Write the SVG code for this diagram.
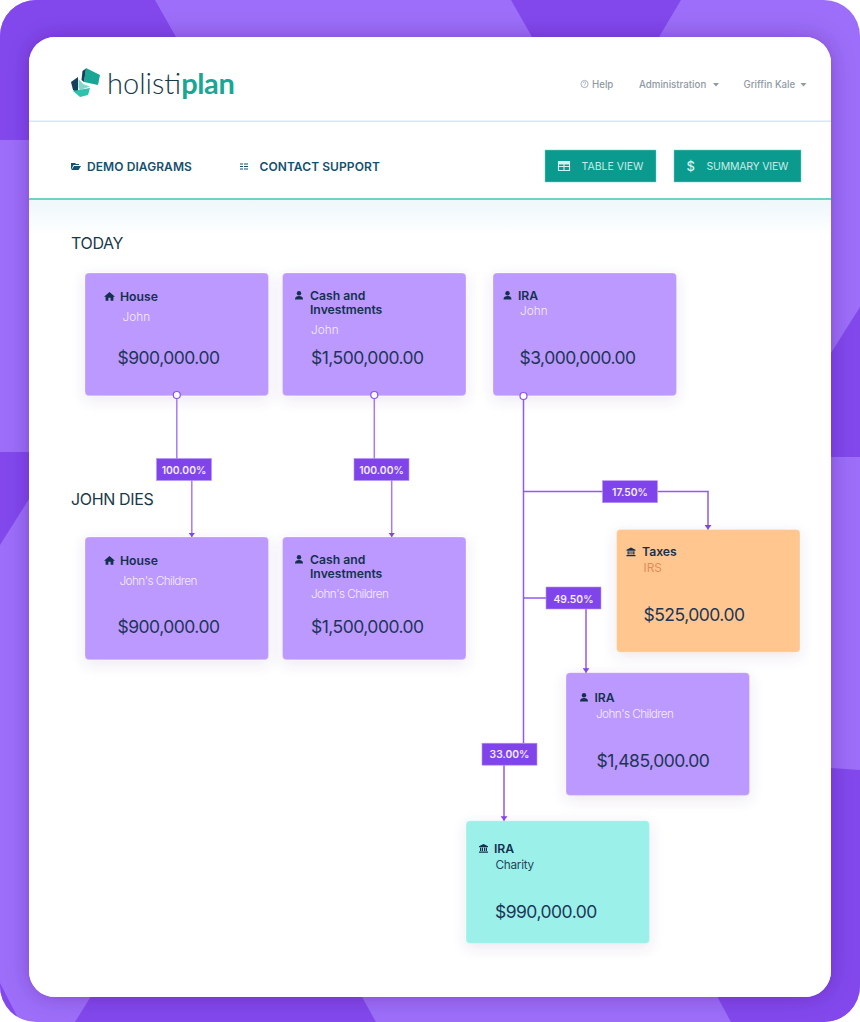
<svg xmlns="http://www.w3.org/2000/svg" width="860" height="1022" viewBox="0 0 860 1022">
<style>
text{font-family:Inter,"Noto Sans","Liberation Sans",sans-serif}
.card{stroke:#fff;stroke-opacity:.25;stroke-width:1}
.t{font-size:12.200px;font-weight:600;fill:#14304f}
.s{font-size:11.800px;font-weight:300;fill:#f4ebff}
.ch{letter-spacing:-.6px}
.a{font-size:17.500px;letter-spacing:-.52px;fill:#1d3557}
.h{font-size:16px;letter-spacing:-.35px;fill:#17394a}
.nav{font-size:12px;font-weight:600;fill:#15506f;letter-spacing:.08px}
.top{font-size:9.700px;font-weight:500;fill:#8f9aa5}
.btn{font-size:10.500px;fill:#c9ece6}
.pct{font-size:10.300px;font-weight:600;fill:#f3ecff;text-anchor:middle}
.lbl{fill:#8045ea;stroke:#b794f6;stroke-width:.6}
.ln{fill:none;stroke:#8f5af0;stroke-width:1.500}
.lt{stroke:#a57bf5}
.dot{fill:#fff;stroke:#8a52ee;stroke-width:1.200}
.ic{fill:#14304f}
</style>
<defs>
<linearGradient id="fade" x1="0" y1="0" x2="0" y2="1"><stop offset="0" stop-color="#eef7fb"/><stop offset="1" stop-color="#ffffff"/></linearGradient>
<filter id="sh" x="-20%" y="-20%" width="140%" height="140%"><feDropShadow dx="0" dy="4" stdDeviation="7" flood-color="#5a4a8a" flood-opacity=".12"/></filter>
<filter id="psh" x="-10%" y="-10%" width="120%" height="120%"><feDropShadow dx="0" dy="0" stdDeviation="11" flood-color="#33206a" flood-opacity=".32"/></filter>
<marker id="arr" markerWidth="5" markerHeight="7" refX="4.500" refY="3.500" orient="auto" markerUnits="userSpaceOnUse" viewBox="0 0 5 7"><path d="M0 0L4.500 3.500L0 7Z" fill="#8045ea"/></marker>
<clipPath id="outer"><rect width="860" height="1022" rx="36"/></clipPath>
<g id="person"><circle cx="4" cy="2.200" r="2.200"/><path d="M0 8.500C0 5.800 1.800 5 4 5S8 5.800 8 8.500Z"/></g>
<g id="home"><path d="M5.500 0L11 4.700H9.400V8.800H6.600V5.800H4.400V8.800H1.600V4.700H0Z"/></g>
<g id="bank"><path d="M4.500 0L9 2.300V3.200H0V2.300ZM1 3.800H2.300V7H1ZM3 3.800H4V7H3ZM5 3.800H6V7H5ZM6.700 3.800H8V7H6.700ZM0 7.500H9V8.800H0Z"/></g>
</defs>
<g id="background" clip-path="url(#outer)">
<rect width="860" height="1022" fill="#9d6ef9"/>
<path d="M0 0H155L176 37V70H70V100H29V140H0Z" fill="#8348ec"/>
<path d="M511 0H681L659 37H532Z" fill="#8348ec"/>
<path d="M0 452H29V499L0 545Z" fill="#8348ec"/>
<path d="M831 353L860 307V457H831Z" fill="#8348ec"/>
<path d="M790 768H831L860 770V1022H731L717.500 997V960H790Z" fill="#8348ec"/>
<path d="M90.500 997H362L376 1022H75Z" fill="#8348ec"/>
<path d="M0 983L20 1022H0Z" fill="#8348ec"/>
<rect x="29" y="37" width="802" height="960" rx="26" fill="#fff" filter="url(#psh)"/>
</g>
<g id="panel">
<rect x="29" y="37" width="802" height="960" rx="26" fill="#fff"/>
<rect x="29" y="200" width="802" height="36" fill="url(#fade)"/>
<rect x="29" y="120.500" width="802" height="1.500" fill="#d5e8f2"/>
<rect x="29" y="198" width="802" height="2" fill="#6dd3c4"/>
</g>
<g id="logo">
<path d="M86 68L100 75L98 85L84 82Z" fill="#17a794"/>
<path d="M82.500 71L86 68.500L84 82L81.500 80Z" fill="#17405a"/>
<path d="M71 82L78 77L78 93L73 90Z" fill="#17405a"/>
<path d="M78.500 79L83 84L90 86.500L80 90L78.500 88Z" fill="#7fd8c8"/>
<path d="M73 91L90 88L88 95L80 97Z" fill="#2bc3ab"/>
<text x="107" y="93.500" style="font-family:Lato,Inter,sans-serif;font-size:29px;font-weight:300" fill="#17394a">holisti<tspan fill="#17a794" font-weight="700" letter-spacing="-.4">plan</tspan></text>
</g>
<g id="topnav">
<circle cx="584.500" cy="84" r="3.600" fill="none" stroke="#8f9aa5" stroke-width=".8"/>
<path d="M583.300 83C583.300 81.500 585.800 81.500 585.800 83C585.800 84 584.500 84 584.500 85M584.500 85.600V86.200" fill="none" stroke="#8f9aa5" stroke-width=".6"/>
<text x="592" y="88" class="top">Help</text>
<text x="639" y="88" class="top">Administration</text>
<path d="M713 83H719L716 86.500Z" fill="#8f9aa5"/>
<text x="743.500" y="88" class="top">Griffin Kale</text>
<path d="M800.500 83H806.500L803.500 86.500Z" fill="#8f9aa5"/>
</g>
<g id="demo-diagrams">
<path d="M71 163H75L76 164H79V165H73.500L71 170ZM71.500 170L74 166H81L78.500 170Z" fill="#15506f"/>
<text x="87" y="170.500" class="nav">DEMO DIAGRAMS</text>
</g>
<g id="contact-support">
<path d="M240 163.500H243V164.500H240ZM244 163.500H248V164.500H244ZM240 166H243V167H240ZM244 166H248V167H244ZM240 168.500H243V169.500H240ZM244 168.500H248V169.500H244Z" fill="#15506f"/>
<text x="259.500" y="170.500" class="nav">CONTACT SUPPORT</text>
</g>
<g id="table-view">
<rect x="545" y="150" width="111" height="32" fill="#0a9b8e" stroke="#6dd3c4" stroke-width=".5"/>
<path d="M558.500 161.500H569.500V164.500H558.500Z" fill="#d6f2ee"/>
<path d="M558.500 161.500H569.500V170.500H558.500ZM558.500 166.500H569.500M564 161.500V170.500" fill="none" stroke="#d6f2ee" stroke-width="1.100"/>
<text x="581.500" y="170" class="btn">TABLE VIEW</text>
</g>
<g id="summary-view">
<rect x="674" y="150" width="127" height="32" fill="#0a9b8e" stroke="#6dd3c4" stroke-width=".5"/>
<text x="686.500" y="171" style="font-size:13px;font-weight:500" fill="#d6f2ee">$</text>
<text x="706.500" y="170" class="btn" letter-spacing="-.2">SUMMARY VIEW</text>
</g>
<text id="today" x="71" y="249" class="h">TODAY</text>
<text id="john-dies" x="71" y="505" class="h">JOHN DIES</text>
<g id="node-house-today">
<rect class="card" x="85" y="273" width="183.500" height="122.700" rx="4" fill="#bc99ff" filter="url(#sh)"/>
<use href="#home" x="104" y="292" class="ic"/>
<text class="t" x="120" y="300.500">House</text><text class="s" x="122.500" y="321">John</text><text class="a" x="117.500" y="364">$900,000.00</text>
</g>
<g id="node-cash-today">
<rect class="card" x="282.500" y="273" width="183.500" height="122.700" rx="4" fill="#bc99ff" filter="url(#sh)"/>
<use href="#person" x="295" y="291" class="ic"/>
<text class="t" x="310" y="299.500">Cash and</text><text class="t" x="310" y="314">Investments</text><text class="s" x="311" y="334">John</text><text class="a" x="311" y="364">$1,500,000.00</text>
</g>
<g id="node-ira-today">
<rect class="card" x="493" y="273" width="183.500" height="122.700" rx="4" fill="#bc99ff" filter="url(#sh)"/>
<use href="#person" x="503.500" y="291" class="ic"/>
<text class="t" x="518" y="299.500">IRA</text><text class="s" x="520" y="315">John</text><text class="a" x="519.500" y="364">$3,000,000.00</text>
</g>
<g id="node-house-dies">
<rect class="card" x="85" y="537" width="183.500" height="122.700" rx="4" fill="#bc99ff" filter="url(#sh)"/>
<use href="#home" x="104" y="556" class="ic"/>
<text class="t" x="120" y="564.500">House</text><text class="s ch" x="119.500" y="585">John's Children</text><text class="a" x="117.500" y="633">$900,000.00</text>
</g>
<g id="node-cash-dies">
<rect class="card" x="282.500" y="537" width="183.500" height="122.700" rx="4" fill="#bc99ff" filter="url(#sh)"/>
<use href="#person" x="295" y="555" class="ic"/>
<text class="t" x="310" y="563.500">Cash and</text><text class="t" x="310" y="578">Investments</text><text class="s ch" x="311" y="598">John's Children</text><text class="a" x="311" y="633">$1,500,000.00</text>
</g>
<g id="node-taxes">
<rect class="card" x="616.500" y="529.500" width="183.500" height="122.700" rx="4" fill="#ffc78f" filter="url(#sh)"/>
<use href="#bank" x="626.500" y="547.500" class="ic"/>
<text class="t" x="642" y="556">Taxes</text><text class="s" x="643.500" y="571.500" style="fill:#e58a5c;font-weight:400">IRS</text><text class="a" x="643.500" y="620.500">$525,000.00</text>
</g>
<g id="node-ira-children">
<rect class="card" x="566" y="672.700" width="183.500" height="122.700" rx="4" fill="#bc99ff" filter="url(#sh)"/>
<use href="#person" x="580" y="693" class="ic"/>
<text class="t" x="594.500" y="702">IRA</text><text class="s ch" x="596" y="717.500">John's Children</text><text class="a" x="596.500" y="766.500">$1,485,000.00</text>
</g>
<g id="node-ira-charity">
<rect class="card" x="466" y="820.700" width="183.500" height="122.700" rx="4" fill="#9bf1ea" filter="url(#sh)"/>
<use href="#bank" x="479" y="844" class="ic"/>
<text class="t" x="494" y="853">IRA</text><text class="s" x="495.500" y="868.500" style="fill:#24455c;font-weight:400;letter-spacing:-.3px">Charity</text><text class="a" x="495" y="917.500">$990,000.00</text>
</g>
<g id="connectors">
<path class="ln lt" d="M176.800 396V459"/>
<path class="ln lt" d="M191.800 480V537" marker-end="url(#arr)"/>
<path class="ln lt" d="M374.300 396V459"/>
<path class="ln lt" d="M391.700 480V537" marker-end="url(#arr)"/>
<path class="ln" d="M523.500 396V743"/>
<path class="ln" d="M523.500 491.500H603"/>
<path class="ln" d="M658 491.500H708V529.500" marker-end="url(#arr)"/>
<path class="ln" d="M523.500 598H546"/>
<path class="ln" d="M586 609V672.700" marker-end="url(#arr)"/>
<path class="ln" d="M504 765V820.700" marker-end="url(#arr)"/>
<circle class="dot" cx="176.800" cy="395" r="3.500"/>
<circle class="dot" cx="374.300" cy="395" r="3.500"/>
<circle class="dot" cx="523.500" cy="396" r="3.500"/>
<rect class="lbl" x="156.500" y="458.500" width="55" height="22"/><text class="pct" x="184" y="473.500">100.00%</text>
<rect class="lbl" x="354" y="458.500" width="55" height="22"/><text class="pct" x="381.500" y="473.500">100.00%</text>
<rect class="lbl" x="602.500" y="480.700" width="55" height="22"/><text class="pct" x="630" y="496">17.50%</text>
<rect class="lbl" x="546" y="587" width="55" height="22"/><text class="pct" x="573.500" y="602.500">49.50%</text>
<rect class="lbl" x="482" y="743.200" width="55" height="22"/><text class="pct" x="509.500" y="758">33.00%</text>
</g>
</svg>
